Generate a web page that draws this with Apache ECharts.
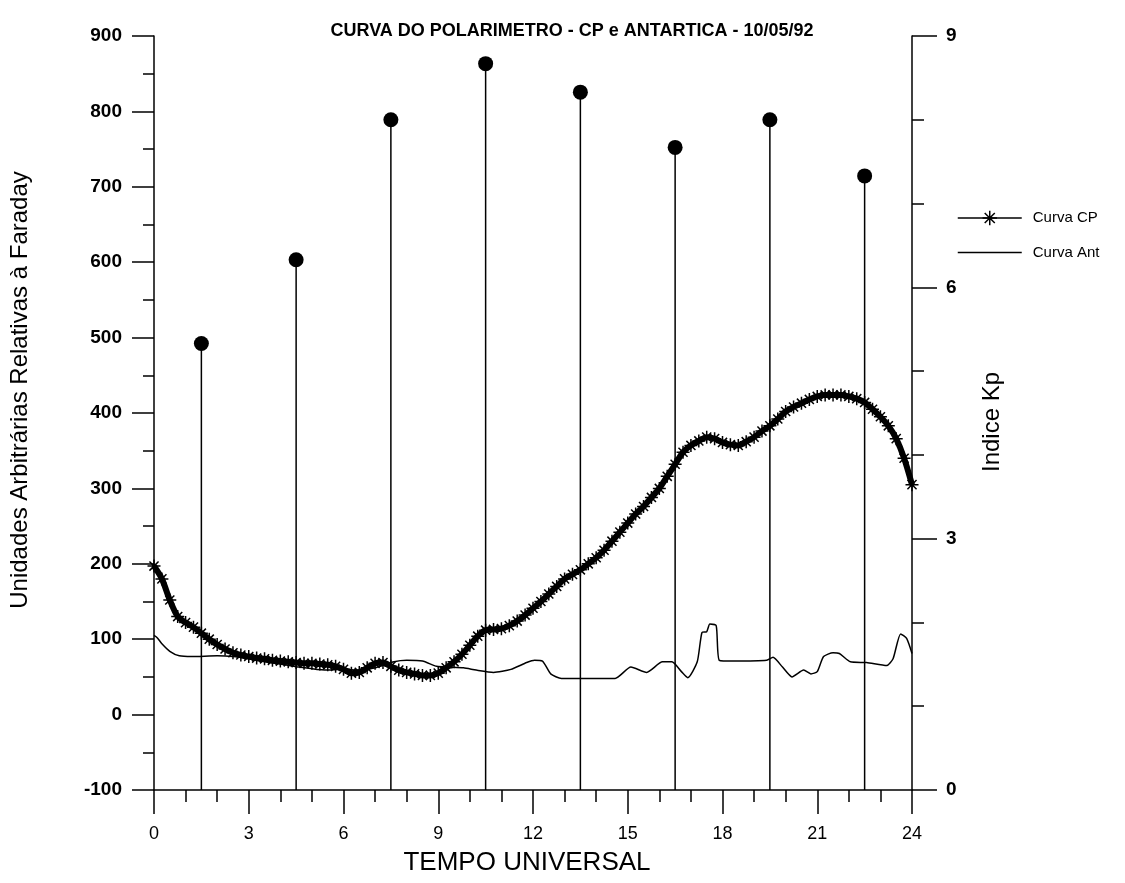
<!DOCTYPE html>
<html>
<head>
<meta charset="utf-8">
<script src="https://cdn.jsdelivr.net/npm/echarts@6/dist/echarts.min.js"></script>
<style>html,body{margin:0;padding:0;background:#fff}#c{width:1125px;height:883px}</style>
</head>
<body>
<div id="c"></div>
<script>
// Curva CP (Polarimetro) - hours and arbitrary units
var cpHours = [0,0.25,0.5,0.75,1,1.25,1.5,1.75,2,2.25,2.5,2.75,3,3.25,3.5,3.75,4,4.25,4.5,4.75,5,5.25,5.5,5.75,6,6.25,6.5,6.75,7,7.25,7.5,7.75,8,8.25,8.5,8.75,9,9.25,9.5,9.75,10,10.25,10.5,10.75,11,11.25,11.5,11.75,12,12.25,12.5,12.75,13,13.25,13.5,13.75,14,14.25,14.5,14.75,15,15.25,15.5,15.75,16,16.25,16.5,16.75,17,17.25,17.5,17.75,18,18.25,18.5,18.75,19,19.25,19.5,19.75,20,20.25,20.5,20.75,21,21.25,21.5,21.75,22,22.25,22.5,22.75,23,23.25,23.5,23.75,24];
var cpValues = [197,180,152,130,122,116,108,100,93,87,82,79,77,75,74,72,71,70,69,68,68,67,66,64,60,55,56,62,68,69,64,59,56,54,52,52,55,62,70,80,92,104,112,113,114,118,124,132,141,150,160,170,180,186,192,200,208,218,230,242,254,266,276,288,300,316,332,348,357,363,368,366,361,358,357,362,368,376,383,392,402,408,413,418,422,424,424,424,422,419,414,405,395,383,366,340,305];
// Curva Ant
var antHours = [0,0.1,0.25,0.5,0.8,1.2,2,2.5,3,3.5,4,4.6,5.4,6,6.5,7,7.6,8,8.5,8.95,9.3,9.8,10.2,10.75,11.3,11.8,12.05,12.3,12.56,12.9,13.6,14.6,15.1,15.6,16.1,16.4,16.7,16.9,17.2,17.35,17.5,17.6,17.8,17.9,18.35,19.4,19.6,19.9,20.2,20.57,20.8,21,21.2,21.5,21.7,22.05,22.56,23.2,23.4,23.64,23.83,24];
var antValues = [105,102,94,84,78,77,78,77,74,70,67,63,59,60,59,62,70,72,71,64,63,62,59,56,60,69,72,71,54,48,48,48,63,56,70,70,57,49,70,109,110,120,118,72,71,72,76,63,50,59,54,57,77,82,81,70,69,65,74,107,101,81];
// Indice Kp (3-hour)
var kpHours = [1.5,4.5,7.5,10.5,13.5,16.5,19.5,22.5];
var kpValues = [5.33,6.33,8,8.67,8.33,7.67,8,7.33];

var yLeftMin = -100, yLeftMax = 900, yLeftStep = 100;
var yRightMin = 0, yRightMax = 9, yRightStep = 3;

function pairs(xs, ys){ return xs.map(function(x,i){ return [x, ys[i]]; }); }

var FONT = 'Liberation Sans, Arial, sans-serif';
var asterisk = 'path://M0,5L10,5M5,0L5,10M1.5,1.5L8.5,8.5M8.5,1.5L1.5,8.5';

var chart = echarts.init(document.getElementById('c'), null, {renderer:'canvas'});
chart.setOption({
  backgroundColor: '#fff',
  animation: false,
  title: {
    text: 'CURVA DO POLARIMETRO - CP e ANTARTICA - 10/05/92',
    left: 567, top: 17, textAlign: 'center',
    textStyle: {fontFamily: FONT, fontSize: 18, fontWeight: 'bold', color: '#000'}
  },
  legend: {
    orient: 'vertical', left: 952, top: 205, itemGap: 19,
    itemWidth: 64, itemHeight: 18,
    textStyle: {fontFamily: FONT, fontSize: 15, color: '#000', padding: [0,0,0,6]},
    lineStyle: {width: 1.5, color: '#000'},
    data: [
      {name: 'Curva CP', itemStyle: {color: '#000', borderColor: '#000', borderWidth: 1.5}},
      {name: 'Curva Ant', itemStyle: {opacity: 0}}
    ]
  },
  grid: {left: 152, right: 213, top: 36, bottom: 93},
  xAxis: {
    type: 'value', min: 0, max: 24, interval: 3,
    name: 'TEMPO UNIVERSAL', nameLocation: 'middle', nameGap: 60,
    nameTextStyle: {fontFamily: FONT, fontSize: 26, color: '#000', padding: [0, 12, 0, 0]},
    axisLine: {show: true, onZero: false, lineStyle: {color: '#000', width: 1.5}},
    axisTick: {show: true, inside: false, length: 24, lineStyle: {color: '#000', width: 1.5}},
    minorTick: {show: true, splitNumber: 3, length: 12, lineStyle: {color: '#000', width: 1.5}},
    axisLabel: {fontFamily: FONT, fontSize: 18, color: '#000', margin: 35},
    splitLine: {show: false}
  },
  yAxis: [
    {
      type: 'value', min: yLeftMin, max: yLeftMax, interval: yLeftStep, position: 'left',
      name: 'Unidades Arbitrárias Relativas à Faraday', nameLocation: 'middle', nameGap: 122, nameRotate: 90,
      nameTextStyle: {fontFamily: FONT, fontSize: 24, color: '#000', padding: [0, 0, 0, 46]},
      axisLine: {show: true, onZero: false, lineStyle: {color: '#000', width: 1.5}},
      axisTick: {show: true, inside: false, length: 22, lineStyle: {color: '#000', width: 1.5}},
      minorTick: {show: true, splitNumber: 2, length: 11, lineStyle: {color: '#000', width: 1.5}},
      axisLabel: {fontFamily: FONT, fontSize: 19, fontWeight: 'bold', color: '#000', margin: 32},
      splitLine: {show: false}
    },
    {
      type: 'value', min: yRightMin, max: yRightMax, interval: yRightStep, position: 'right',
      name: 'Indice Kp', nameLocation: 'middle', nameGap: 68, nameRotate: 90,
      nameTextStyle: {fontFamily: FONT, fontSize: 24, color: '#000', padding: [0, 18, 0, 0]},
      axisLine: {show: true, onZero: false, lineStyle: {color: '#000', width: 1.5}},
      axisTick: {show: true, inside: false, length: 25, lineStyle: {color: '#000', width: 1.5}},
      minorTick: {show: true, splitNumber: 3, length: 12, lineStyle: {color: '#000', width: 1.5}},
      axisLabel: {fontFamily: FONT, fontSize: 19, fontWeight: 'bold', color: '#000', margin: 34},
      splitLine: {show: false}
    }
  ],
  series: [
    {
      name: 'Kp stems', type: 'bar', yAxisIndex: 1, barWidth: 1.5,
      itemStyle: {color: '#000'}, silent: true,
      data: pairs(kpHours, kpValues)
    },
    {
      name: 'Kp', type: 'scatter', yAxisIndex: 1, symbol: 'circle', symbolSize: 15,
      itemStyle: {color: '#000', opacity: 1}, z: 5,
      data: pairs(kpHours, kpValues)
    },
    {
      name: 'Curva Ant', type: 'line', yAxisIndex: 0, symbol: 'circle', showSymbol: false, smooth: 0.2,
      lineStyle: {color: '#000', width: 1.5},
      itemStyle: {color: '#000'},
      data: pairs(antHours, antValues), z: 3
    },
    {
      name: 'Curva CP', type: 'line', yAxisIndex: 0, symbol: asterisk, symbolSize: 13, showSymbol: true,
      smooth: 0.3,
      lineStyle: {color: '#000', width: 6},
      itemStyle: {color: '#000', borderColor: '#000', borderWidth: 1.5},
      data: pairs(cpHours, cpValues), z: 4
    }
  ]
});
</script>
</body>
</html>
